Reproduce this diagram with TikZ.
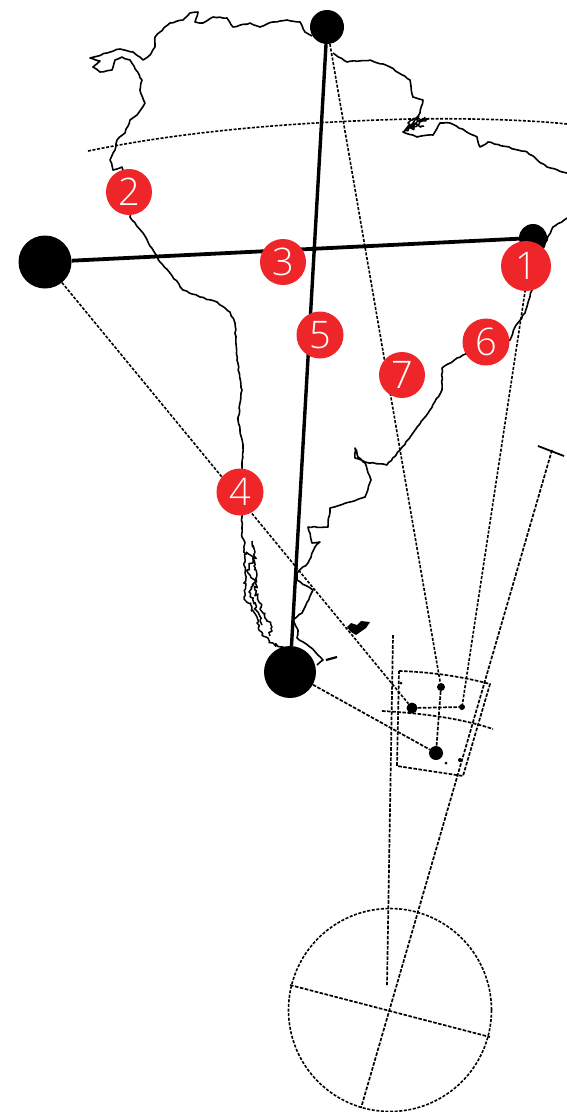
\documentclass[tikz,border=0pt]{standalone}
\usepackage{fontspec}
\usetikzlibrary{decorations.pathmorphing}
\setmainfont{Open Sans}
\newfontfamily\badgefont{Open Sans Light}
\definecolor{badgered}{HTML}{EE2529}
\tikzset{
 coast/.style={draw=black,line width=1.6pt,line join=round,decorate,decoration={random steps,segment length=3.5pt,amplitude=0.6pt}},
 fjord/.style={draw=black,line width=1.5pt,line join=round,decorate,decoration={random steps,segment length=2.2pt,amplitude=2pt}},
 dotn/.style={circle,fill=black,inner sep=0pt,minimum size=#1},
 heavy/.style={draw=black,line width=3.8pt},
 dashline/.style={draw=black,line width=1.7pt,dash pattern=on 3.6pt off 1.5pt},
 fineline/.style={draw=black,line width=1.6pt,dash pattern=on 3pt off 1.6pt},
 badge/.style={circle,fill=badgered,text=white,inner sep=0pt,minimum size=#1,font=\badgefont\fontsize{38}{38}\selectfont},
}
\begin{document}
\begin{tikzpicture}[x=1pt,y=-1pt]
\useasboundingbox (0,0) rectangle (567,1112);
\fill[white] (0,0) rectangle (567,1112);
% north-west and Pacific coast
\path[coast] (312,36) -- (305,32) -- (300,22) -- (287,20) -- (273,22) -- (260,27) -- (250,23) -- (233,27) -- (227,18) -- (213,17) -- (203,23) -- (195,22) -- (198,12) -- (190,13) -- (183,20) -- (170,23) -- (160,32) -- (155,37) -- (155,47) -- (150,55) -- (143,60) -- (133,52) -- (120,49) -- (107,53) -- (90,58) -- (100,61) -- (93,67) -- (100,72) -- (112,70) -- (115,60) -- (122,57) -- (130,60) -- (142,80) -- (140,90) -- (145,103) -- (137,115) -- (130,120) -- (125,133) -- (117,140) -- (115,150) -- (110,160) -- (113,170) -- (122,167) -- (130,190) -- (130,217) -- (143,233) -- (153,250) -- (160,262) -- (170,273) -- (183,290) -- (200,297) -- (217,302) -- (230,312) -- (235,323) -- (237,360) -- (242,390) -- (238,420) -- (243,447) -- (242,467) -- (242,517) -- (242,537) -- (245,543);
% southern fjords
\path[fjord] (245,543) -- (244,563) -- (246,578) -- (244,597) -- (252,607) -- (257,623) -- (262,635) -- (273,643) -- (285,648);
\path[fjord] (252,541) -- (255,552) -- (254,566) -- (257,575) -- (255,590) -- (258,600) -- (265,618) -- (272,627) -- (270,636);
\path[fjord] (246,552) -- (253,560) -- (247,570) -- (255,582) -- (249,592) -- (256,610) -- (262,625);
% northern and Atlantic coast
\path[coast] (333,53) -- (347,62) -- (370,60) -- (390,67) -- (410,80) -- (413,97) -- (423,100) -- (420,113) -- (413,123) -- (403,132) -- (417,137) -- (433,135) -- (440,123) -- (450,123) -- (477,137) -- (480,147) -- (488,142) -- (527,152) -- (547,167) -- (567,173);
\path[fjord] (419,116) -- (408,123) -- (414,128) -- (405,130) -- (420,120) -- (428,119) -- (413,127) -- (424,126);
\path[coast] (567,218) -- (553,227) -- (545,243) -- (535,270) -- (532,290) -- (525,313) -- (515,327) -- (510,340) -- (490,345) -- (463,355) -- (442,368) -- (442,390) -- (430,410) -- (413,433) -- (400,450) -- (387,465) -- (365,462) -- (355,458) -- (355,448) -- (358,457) -- (365,463) -- (371,480) -- (365,497) -- (330,508) -- (328,527) -- (308,527) -- (312,543) -- (320,542) -- (315,547) -- (308,563) -- (297,573) -- (297,580) -- (313,590) -- (302,613) -- (293,620) -- (298,630) -- (297,638) -- (310,647) -- (323,660) -- (317,665);
\draw[line width=2.2pt] (326,660) -- (337,657);
% Falkland Islands
\fill[black] (347,627) -- (351,623) -- (357,625) -- (361,621) -- (370,622) -- (366,628) -- (356,635) -- (351,632) -- cycle;
% equator
\path[fineline] (88,151) .. controls (190,130) and (300,122) .. (410,119) .. controls (470,118) and (530,120) .. (567,124);
% named points
\node[dotn=34pt] (north) at (327,27) {};
\node[dotn=53pt] (west) at (45,262) {};
\node[dotn=28pt] (east) at (533,238) {};
\node[dotn=52pt] (south) at (290,672) {};
\node[dotn=8pt] (s1) at (441,687) {};
\node[dotn=11pt] (s2) at (412,708) {};
\node[dotn=6pt] (s3) at (462,707) {};
\node[dotn=14pt] (s4) at (436,753) {};
\node[dotn=3pt] (s5) at (446,763) {};
\node[dotn=4pt] (s6) at (460,760) {};
\node[dotn=3pt] (s7) at (401,683) {};
\coordinate (qa) at (399,671);
\coordinate (qb) at (490,684);
\coordinate (qc) at (463,776);
\coordinate (qd) at (397,766);
\coordinate (ha) at (382,711);
\coordinate (hb) at (493,729);
\coordinate (va) at (393,635);
\coordinate (vb) at (387,985);
\coordinate (ta) at (552,450);
\coordinate (tl) at (538,446);
\coordinate (tr) at (564,456);
\coordinate (tb) at (361,1108);
\coordinate (ea) at (526,285);
\coordinate (ca) at (290,985);
\coordinate (cb) at (490,1037);
% solid sight lines
\draw[heavy] (west) -- (east);
\draw[heavy,line width=3.4pt] (north) -- (south);
% dashed sight lines
\draw[fineline] (west) -- (s2);
\draw[dashline] (south) -- (s4);
\draw[fineline] (north) -- (s1);
\draw[fineline] (ea) -- (s3);
\draw[dashline] (ta) -- (tb);
\draw[line width=1.8pt] (tl) -- (tr);
\draw[dashline] (s2) -- (s3);
\draw[dashline] (s1) -- (s4);
\draw[dashline] (va) -- (vb);
\draw[dashline] (ha) .. controls (420,713) and (460,718) .. (hb);
\draw[dashline] (qa) .. controls (430,672) and (460,676) .. (qb) -- (qc) -- (qd) -- cycle;
% sighting circle
\node[circle,fineline,inner sep=0pt,minimum size=203pt] (ring) at (390,1010) {};
\draw[dashline] (ca) -- (cb);
% number badges
\node[badge=50pt] (b1) at (526,266) {1};
\node[badge=46pt] (b2) at (129,192) {2};
\node[badge=46pt] (b3) at (283,262) {3};
\node[badge=47pt] (b4) at (240,492) {4};
\node[badge=47pt] (b5) at (320,335) {5};
\node[badge=47pt] (b6) at (486,342) {6};
\node[badge=46pt] (b7) at (402,375) {7};
\end{tikzpicture}
\end{document}
